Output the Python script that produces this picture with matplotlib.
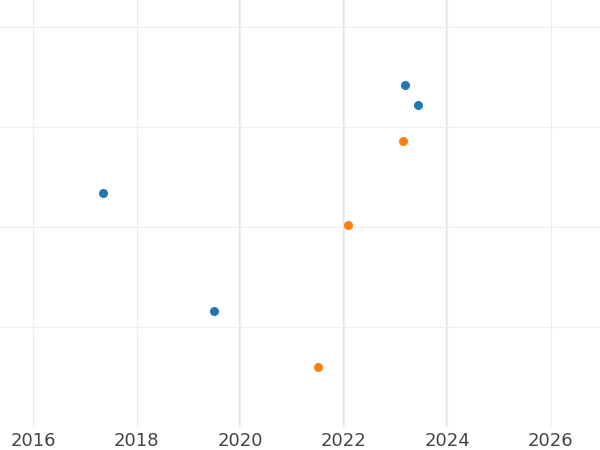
import matplotlib
matplotlib.use("Agg")
import matplotlib.pyplot as plt

blue_x = [2023.18, 2023.43, 2017.35, 2019.49]
blue_y = [3.42, 3.22, 2.34, 1.16]
orange_x = [2023.14, 2022.08, 2021.50]
orange_y = [2.86, 2.02, 0.60]
xticks = [2016, 2018, 2020, 2022, 2024, 2026]

fig = plt.figure(figsize=(6, 4.5), dpi=100)
ax = fig.add_axes([0, 0.051, 1, 0.949])
ax.scatter(blue_x, blue_y, color="#1f77b4", s=30, zorder=3)
ax.scatter(orange_x, orange_y, color="#ff7f0e", s=30, zorder=3)
ax.set_xlim(2015.36, 2026.95)
ax.set_ylim(0, 4.27)
ax.set_xticks(xticks)
ax.set_xticklabels([str(t) for t in xticks], fontsize=13, color="#444444")
ax.set_yticks([1, 2, 3, 4])
ax.set_yticklabels([])
ax.tick_params(length=0)
for s in ax.spines.values():
    s.set_visible(False)
ax.grid(True, color="#eeeeee", linewidth=0.8)
for x in [2020, 2022, 2024]:
    ax.axvline(x, color="#e2e2e2", linewidth=1.5, zorder=1)
fig.savefig("out.png", dpi=100)
